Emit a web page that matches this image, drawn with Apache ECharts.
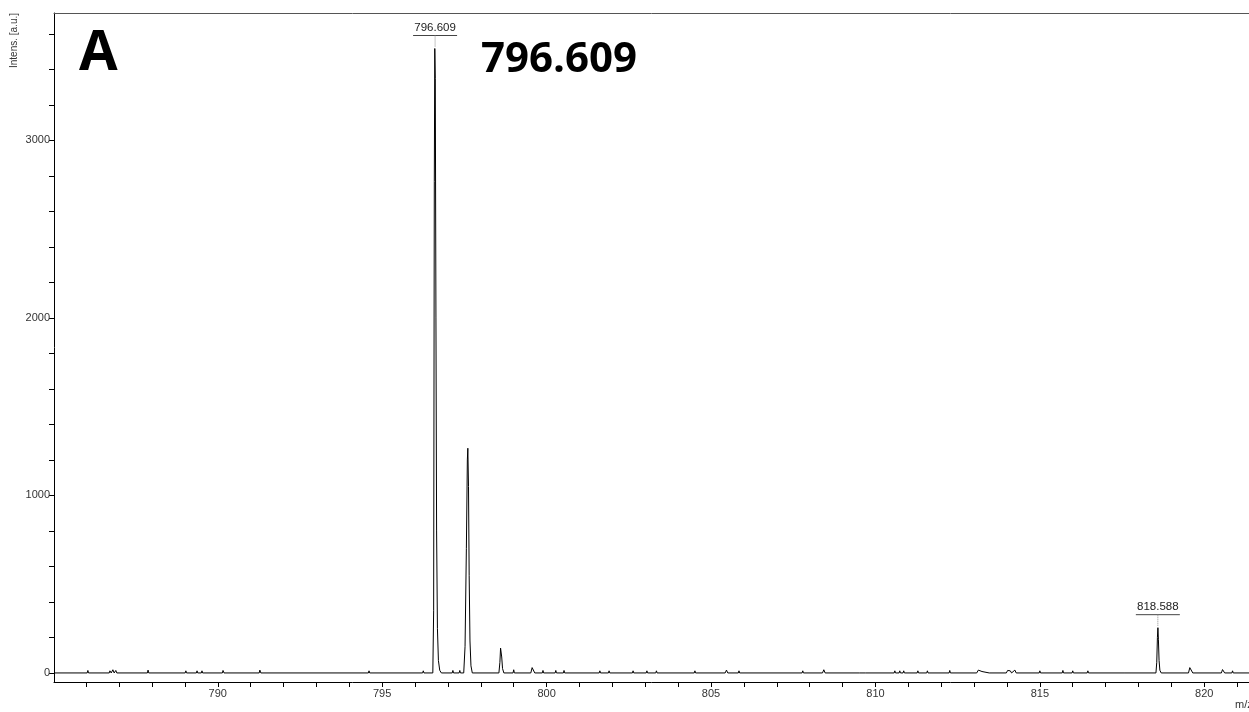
<!DOCTYPE html>
<html>
<head>
<meta charset="utf-8">
<script src="https://cdn.jsdelivr.net/npm/echarts@6/dist/echarts.min.js"></script>
<style>
html,body{margin:0;padding:0;background:#fff;}
#chart{width:1249px;height:712px;}
</style>
</head>
<body>
<div id="chart"></div>
<script>
// ---- data ----
const spectrumMz = [
785.02,786.03,786.05,786.07,786.70,786.72,786.76,786.79,786.81,786.85,786.88,786.90,786.93,
787.86,787.88,787.90,789.01,789.03,789.05,789.35,789.37,789.39,789.50,789.52,789.54,
790.14,790.16,790.19,791.26,791.28,791.31,794.58,794.60,794.62,796.23,796.25,796.27,
796.54,796.565,796.585,796.600,796.615,796.635,796.655,796.68,796.71,796.75,796.80,
797.13,797.15,797.17,797.34,797.36,797.38,
797.48,797.52,797.56,797.59,797.605,797.625,797.645,797.67,797.70,797.74,
798.55,798.58,798.60,798.615,798.635,798.66,798.70,
798.98,799.00,799.02,799.52,799.56,799.60,799.64,799.87,799.89,799.91,
800.26,800.28,800.30,800.51,800.53,800.55,801.60,801.62,801.64,801.88,801.90,801.92,
802.61,802.63,802.65,803.03,803.05,803.07,803.32,803.34,803.36,804.49,804.51,804.53,
805.43,805.47,805.51,805.83,805.85,805.87,807.77,807.79,807.81,808.39,808.43,808.47,
809.51,809.53,809.55,809.69,809.71,809.73,810.57,810.59,810.61,810.72,810.74,810.76,
810.84,810.86,810.88,811.27,811.29,811.31,811.56,811.58,811.60,812.24,812.26,812.28,
813.08,813.13,813.18,813.24,813.28,813.46,813.48,813.50,
813.98,814.02,814.06,814.10,814.14,814.20,814.24,814.28,
814.98,815.00,815.02,815.68,815.70,815.72,815.98,816.00,816.02,816.44,816.46,816.48,
817.56,817.58,817.60,
818.53,818.555,818.575,818.59,818.605,818.625,818.65,818.69,
819.52,819.56,819.585,819.61,819.65,
820.52,820.555,820.585,820.62,820.84,820.86,820.88,821.36
];
const spectrumInt = [
0,0,14,0,0,12,0,0,18,0,0,14,0,
0,16,0,0,12,0,0,12,0,0,12,0,
0,14,0,0,16,0,0,12,0,0,12,0,
0,350,2770,3518,3350,2000,800,250,70,15,0,
0,14,0,0,14,0,
0,150,700,1200,1266,1050,550,180,40,0,
0,60,140,148,90,25,0,
0,18,0,0,30,20,0,0,14,0,
0,14,0,0,14,0,0,12,0,0,12,0,
0,12,0,0,12,0,0,12,0,0,12,0,
0,16,0,0,12,0,0,12,0,0,18,0,
0,10,0,0,10,0,0,12,0,0,12,0,
0,12,0,0,12,0,0,12,0,0,14,0,
0,16,10,8,0,0,10,0,
0,14,8,12,0,0,16,0,
0,12,0,0,14,0,0,12,0,0,12,0,
0,10,0,
0,60,200,255,190,70,15,0,
0,30,38,25,0,
0,19,12,0,0,12,0,0
];
const peakLabelMz = [796.609, 818.588];
const peakLabelInt = [3518, 255];
const peakLabelText = ['796.609', '818.588'];

const xTickValues = [];
for (let v = 786; v <= 821; v++) xTickValues.push(v);
const xLabelValues = [790, 795, 800, 805, 810, 815, 820];
const yTickValues = [];
for (let v = 0; v <= 3600; v += 200) yTickValues.push(v);
const yLabelValues = [0, 1000, 2000, 3000];

const X_MIN = 785.02, X_MAX = 821.36, Y_MIN = -51, Y_MAX = 3718;

const lineData = spectrumMz.map((m, i) => [m, spectrumInt[i]]);
const annData = peakLabelMz.map((m, i) => [m, peakLabelInt[i], i]);

const chart = echarts.init(document.getElementById('chart'), null, {renderer: 'canvas'});
const FONT = '"Liberation Sans", Arial, sans-serif';

chart.setOption({
  animation: false,
  backgroundColor: '#ffffff',
  grid: {left: 54, top: 13, right: 0, bottom: 30, containLabel: false},
  xAxis: [{
    type: 'value', min: X_MIN, max: X_MAX, position: 'bottom',
    axisLine: {show: true, onZero: false, lineStyle: {color: '#000', width: 1}},
    axisTick: {show: true, inside: false, length: 5, customValues: xTickValues, lineStyle: {color: '#000'}},
    axisLabel: {show: true, customValues: xLabelValues, margin: 6, color: '#333', fontSize: 11, fontFamily: FONT,
      formatter: function (v) { return String(Math.round(v)); }},
    splitLine: {show: false}
  }, {
    type: 'value', min: X_MIN, max: X_MAX, position: 'top',
    axisLine: {show: true, onZero: false, lineStyle: {color: '#555', width: 1}},
    axisTick: {show: false}, axisLabel: {show: false}, splitLine: {show: false}
  }],
  yAxis: [{
    type: 'value', min: Y_MIN, max: Y_MAX,
    axisLine: {show: true, onZero: false, lineStyle: {color: '#000', width: 1}},
    axisTick: {show: true, inside: false, length: 5, customValues: yTickValues, lineStyle: {color: '#000'}},
    axisLabel: {show: true, customValues: yLabelValues, margin: 4, color: '#333', fontSize: 11, fontFamily: FONT,
      formatter: function (v) { return String(Math.round(v)); }},
    splitLine: {show: false}
  }],
  series: [{
    type: 'line', xAxisIndex: 0, yAxisIndex: 0,
    data: lineData, showSymbol: false, symbol: 'none',
    lineStyle: {color: '#000', width: 1}, silent: true
  }, {
    type: 'custom', xAxisIndex: 0, yAxisIndex: 0, clip: false,
    data: annData,
    encode: {x: 0, y: 1},
    renderItem: function (params, api) {
      const p = api.coord([api.value(0), api.value(1)]);
      const idx = api.value(2);
      return {
        type: 'group',
        children: [{
          type: 'line',
          shape: {x1: p[0] - 22, y1: p[1] - 13, x2: p[0] + 22, y2: p[1] - 13},
          style: {stroke: '#444', lineWidth: 1}
        }, {
          type: 'line',
          shape: {x1: p[0], y1: p[1] - 13, x2: p[0], y2: p[1] - 1},
          style: {stroke: '#888', lineWidth: 1, lineDash: [1, 1]}
        }, {
          type: 'text',
          x: p[0], y: p[1] - 15,
          style: {text: peakLabelText[idx], fill: '#222', font: '11.5px ' + FONT, textAlign: 'center', textVerticalAlign: 'bottom'}
        }]
      };
    }
  }],
  graphic: [{
    type: 'text', x: 14, y: 13, rotation: Math.PI / 2,
    style: {text: 'Intens. [a.u.]', fill: '#333', font: '10px ' + FONT, textAlign: 'right', textVerticalAlign: 'middle'}
  }, {
    type: 'text', x: 1235, y: 705,
    style: {text: 'm/z', fill: '#333', font: '11px ' + FONT, textAlign: 'left', textVerticalAlign: 'middle'}
  }, {
    type: 'text', x: 79, y: 54,
    style: {text: 'A', fill: '#000', font: 'bold 56px "Open Sans", sans-serif', textAlign: 'left', textVerticalAlign: 'middle'}
  }, {
    type: 'text', x: 481, y: 60,
    style: {text: '796.609', fill: '#000', font: 'bold 42px "Open Sans", sans-serif', textAlign: 'left', textVerticalAlign: 'middle'}
  }]
});
</script>
</body>
</html>
